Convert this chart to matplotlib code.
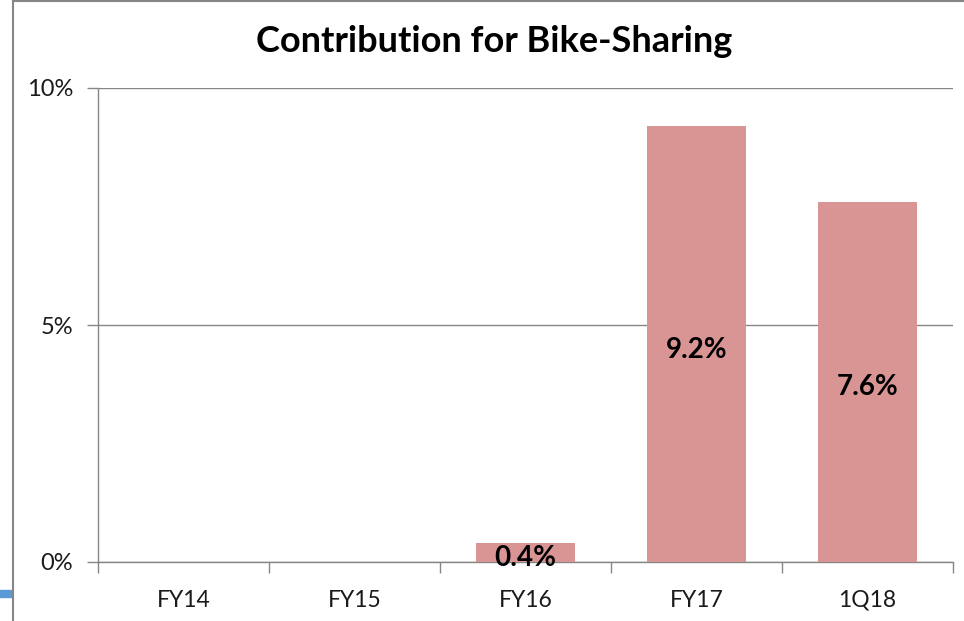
import matplotlib
matplotlib.use("Agg")
import matplotlib.pyplot as plt
from matplotlib.patches import Rectangle
from matplotlib.lines import Line2D
import numpy as np

categories = ["FY14", "FY15", "FY16", "FY17", "1Q18"]
values = [None, None, 0.4, 9.2, 7.6]
labels = ["", "", "0.4%", "9.2%", "7.6%"]
yticks = [0, 5, 10]
ytick_labels = ["0%", "5%", "10%"]

plt.rcParams['font.family'] = ['Lato', 'DejaVu Sans']

W, H = 964, 621
fig = plt.figure(figsize=(W/100, H/100), dpi=100)
ax = fig.add_axes([98/W, 1 - 562/H, (953-98)/W, (562-88)/H])

x = np.arange(len(categories))
grey = "#868686"
barcol = "#D99594"
for xi, v, lab in zip(x, values, labels):
    if v is None:
        continue
    ax.bar(xi, v, width=0.58, color=barcol, zorder=3)
    ax.annotate(lab, (xi, v/2), xytext=(0, -4), textcoords="offset points",
                ha="center", va="center", fontsize=20,
                fontweight="bold", color="black", zorder=4)

ax.set_xlim(-0.5, len(categories) - 0.5)
ax.set_ylim(0, 10)
ax.set_yticks(yticks)
ax.set_yticklabels(ytick_labels, fontsize=17, color="#1a1a1a")
ax.yaxis.grid(True, color=grey, linewidth=1, zorder=0)
ax.set_axisbelow(True)

ax.set_xticks(np.arange(-0.5, len(categories), 1.0))
ax.set_xticklabels([])
ax.set_xticks(x, minor=True)
ax.set_xticklabels(categories, minor=True, fontsize=16.5, color="#1a1a1a")
ax.tick_params(axis="x", which="major", length=8, color=grey, direction="out", width=1)
ax.tick_params(axis="x", which="minor", length=0, pad=20)
ax.tick_params(axis="y", length=8, color=grey, width=1, pad=10)

for s in ["top", "right"]:
    ax.spines[s].set_visible(False)
for s in ["left", "bottom"]:
    ax.spines[s].set_color(grey)
    ax.spines[s].set_linewidth(1)

fig.text(494/W, 1 - 42/H, "Contribution for Bike-Sharing", ha="center", va="center",
         fontsize=26, fontweight="bold", color="black")

# outer frame (chart border, cut at right/bottom)
fig.add_artist(Line2D([12.5/W, 12.5/W], [0, 1 - 1/H], color=grey, linewidth=1.5, transform=fig.transFigure))
fig.add_artist(Line2D([12.5/W, 1], [1 - 1/H, 1 - 1/H], color=grey, linewidth=1.5, transform=fig.transFigure))
# small blue mark at left edge
fig.add_artist(Rectangle((0, 1 - 597/H), 11/W, 7/H, color="#5B9BD5", transform=fig.transFigure))

fig.savefig("out.png", dpi=100)
